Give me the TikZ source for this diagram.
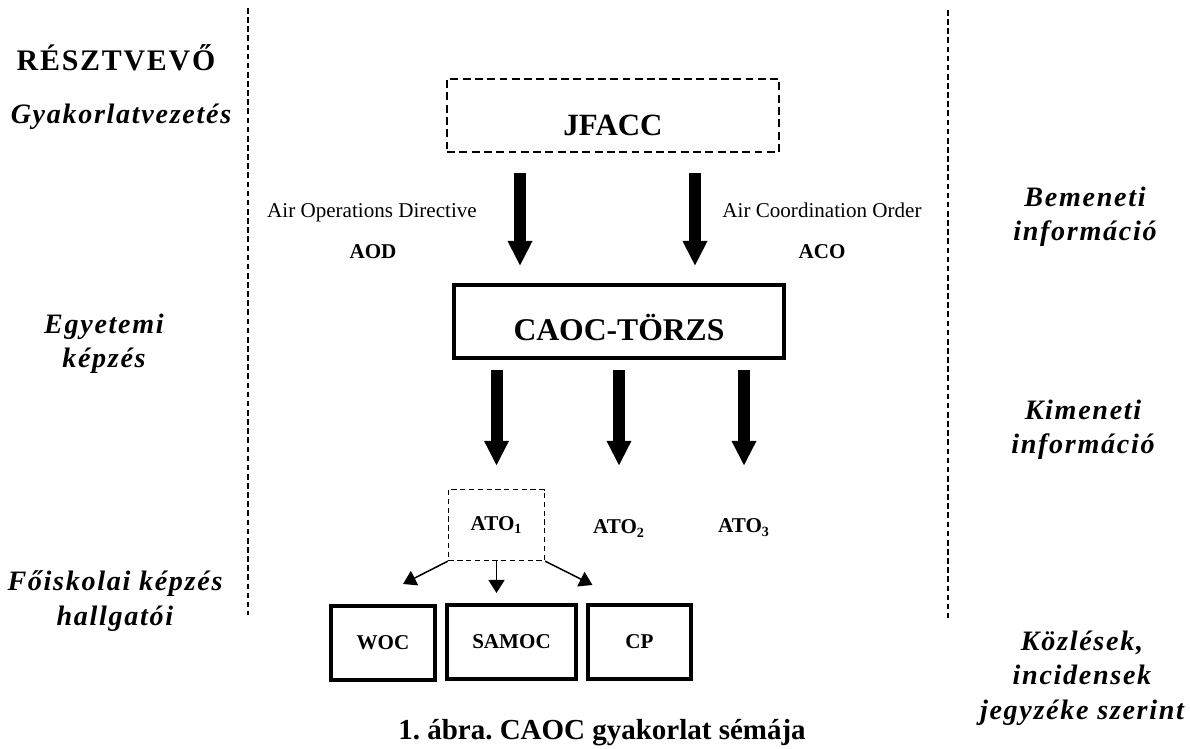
\documentclass[tikz,border=0pt]{standalone}
\usepackage{fontspec}
\setmainfont{Liberation Serif}
\newfontfamily\sidefont[LetterSpace=6]{Liberation Serif}
\usetikzlibrary{arrows.meta,calc,positioning}

\begin{document}
\begin{tikzpicture}[x=0.02cm,y=-0.02cm,
	side/.style={align=center,font=\sidefont\fontsize{16}{19.6}\selectfont\bfseries\itshape},
	label text/.style={anchor=base,font=\fontsize{12}{14}\selectfont},
	label bold/.style={anchor=base,font=\fontsize{12}{14}\selectfont\bfseries},
	dashbox/.style={draw,line width=1.05pt,dash pattern=on 4.5pt off 2.5pt,inner sep=0pt},
	unitbox/.style={draw,line width=2.3pt,minimum height=1.48cm,font=\fontsize{12}{14}\selectfont\bfseries},
	separator/.style={line width=1.2pt,dash pattern=on 3.2pt off 2pt},
	bigarrow/.style={line width=0.24cm,-{Triangle[width=0.46cm,length=0.5cm]}},
	smallarrow/.style={line width=0.85pt,-{Triangle[width=0.32cm,length=0.26cm]}}]
	\useasboundingbox (0,0) rectangle (1190,749);

	% Draw separators
	\draw[separator] (248,8) -- (248,615);
	\draw[separator] (948,10) -- (948,618);

	% Left column
	\node[font=\sidefont\fontsize{17}{20}\selectfont\bfseries] (resztvevo) at (116,58) {RÉSZTVEVŐ};
	\node[side] (gyakorlat) at (121,117) {Gyakorlatvezetés};
	\node[side] (egyetemi) at (104,344) {Egyetemi\\képzés};
	\node[side] (foiskolai) at (115,601) {Főiskolai képzés\\hallgatói};

	% Right column
	\node[side] (bemeneti) at (1085,217) {Bemeneti\\információ};
	\node[side] (kimeneti) at (1083,430) {Kimeneti\\információ};
	\node[side] (kozlesek) at (1082,678) {Közlések,\\incidensek\\jegyzéke szerint};

	% Draw main boxes
	\node[dashbox,minimum width=6.64cm,text height=1.14cm,text depth=0.32cm,font=\fontsize{17.6}{20}\selectfont\bfseries] (jfacc) at (613,115.5) {JFACC};
	\node[draw,line width=2.3pt,inner sep=0pt,minimum width=6.6cm,text height=1.11cm,text depth=0.35cm,font=\fontsize{18}{21}\selectfont\bfseries] (caoc) at (619,321.5) {CAOC-TÖRZS};

	% Input labels
	\node[label text] (aodtext) at (372,218) {Air Operations Directive};
	\node[label bold] (aod) at (373,259) {AOD};
	\node[label text] (acotext) at (822,218) {Air Coordination Order};
	\node[label bold] (aco) at (822,259) {ACO};

	% Input arrows
	\draw[bigarrow] ($(jfacc.south)+(-93,20)$) -- ($(caoc.north)+(-99,-17)$);
	\draw[bigarrow] ($(jfacc.south)+(82,20)$) -- ($(caoc.north)+(76,-17)$);

	% Outputs
	\node[dashbox,dash pattern=on 3pt off 2pt,line width=0.75pt,minimum width=1.92cm,minimum height=1.42cm,font=\fontsize{12}{14}\selectfont\bfseries] (ato1) at (496.5,525) {ATO\textsubscript{1}};
	\node[label bold] (ato2) at (619,534) {ATO\textsubscript{2}};
	\node[label bold] (ato3) at (744,533) {ATO\textsubscript{3}};

	\draw[bigarrow] ($(caoc.south -| ato1)+(0,10)$) -- ($(ato1.north)+(0,-23)$);
	\draw[bigarrow] ($(caoc.south -| ato2)+(0,10)$) -- ($(ato2 |- ato1.north)+(0,-23)$);
	\draw[bigarrow] ($(caoc.south -| ato3)+(0,10)$) -- ($(ato3 |- ato1.north)+(0,-23)$);

	% Units
	\node[unitbox,minimum width=2.08cm] (woc) at (383,643) {WOC};
	\node[unitbox,minimum width=2.58cm] (samoc) at (511.5,642) {SAMOC};
	\node[unitbox,minimum width=2.06cm] (cp) at (639.5,642) {CP};

	\draw[smallarrow] (ato1.south west) -- ($(woc.north)+(20,-20)$);
	\draw[smallarrow] (ato1.south) -- ($(ato1.south |- samoc.north)+(0,-10)$);
	\draw[smallarrow] (ato1.south east) -- ($(cp.north)+(-47,-18)$);

	% Caption
	\node[font=\fontsize{16.5}{19}\selectfont\bfseries] (caption) at (602,733) {\frenchspacing 1. ábra. CAOC gyakorlat sémája};
\end{tikzpicture}
\end{document}
